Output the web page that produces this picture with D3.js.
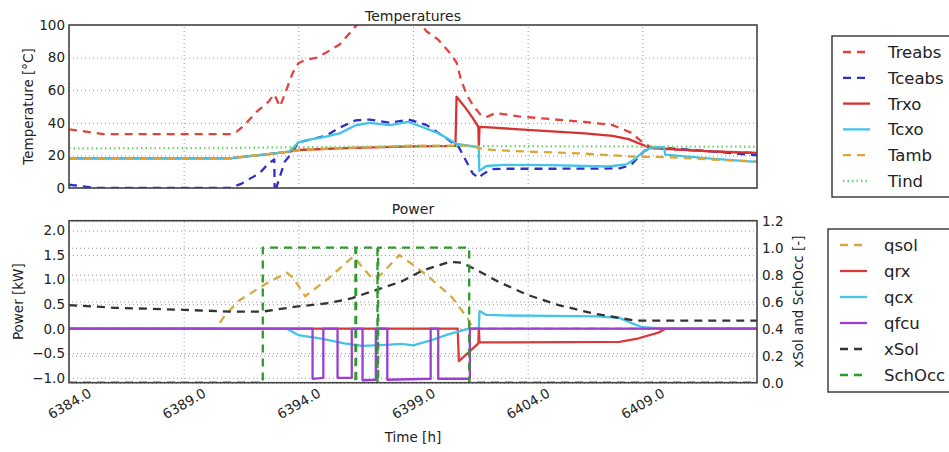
<!DOCTYPE html>
<html>
<head>
<meta charset="utf-8">
<script src="https://cdn.jsdelivr.net/npm/d3@7"></script>
<style>
  body { margin: 0; background: #fff; }
  text { font-family: "DejaVu Sans", sans-serif; fill: #222; }
</style>
</head>
<body>
<svg id="chart" width="949" height="452"></svg>
<script>
// ---- data: [time (h), value] ----
const xTicks = [6384, 6389, 6394, 6399, 6404, 6409];
const tempTicks = [0, 20, 40, 60, 80, 100];
const powerTicks = [-1.0, -0.5, 0.0, 0.5, 1.0, 1.5, 2.0];
const fracTicks = [0.0, 0.2, 0.4, 0.6, 0.8, 1.0, 1.2];

const Treabs = [[6384,36],[6384.8,34.5],[6385.5,33],[6391,33],[6391.3,34.5],[6391.65,38.6],[6392.2,47],[6392.7,53],[6392.95,57.5],
  [6393.2,50],[6393.5,61],[6393.75,70.5],[6394,76.5],[6394.3,78.5],[6394.8,80],[6395.2,83],[6395.8,88],[6396.3,96],[6396.6,101],
  [6397.2,107],[6398,111],[6398.8,108],[6399.3,101],[6399.6,96],[6400.1,91],[6400.6,83],[6400.9,77],[6401.1,66],[6401.35,57],
  [6401.65,50],[6401.95,45],[6402.2,43.5],[6402.6,46],[6403.6,44],[6404.8,42.5],[6406.5,40.5],[6407.7,38.6],[6408.5,34],
  [6409.1,27],[6409.5,24.5],[6410.5,23.5],[6412,22.5],[6414,21.5]];
const Tceabs = [[6384,2],[6384.6,1],[6385.2,0],[6391,0],[6391.5,2.5],[6392.3,9],[6392.7,15],[6392.95,17.5],[6392.97,-3],
  [6393.4,16],[6393.75,22],[6394,28],[6394.6,30],[6395.2,32],[6395.8,37],[6396.5,41.5],[6397.1,42],[6398,40],[6398.8,42],
  [6399.6,38.6],[6400.4,31],[6401,25],[6401.3,17],[6401.6,9],[6401.87,6],[6402,8],[6402.4,11.5],[6403,11.8],[6405,11.8],
  [6408,12],[6408.5,14],[6409.1,23],[6409.7,25],[6410.5,24],[6412,22.5],[6414,20]];
const Trxo = [[6384,18.2],[6391,18.2],[6392.5,20.5],[6393.6,22.3],[6394,23.3],[6396,24.5],[6399,25.5],[6400.85,25.8],
  [6400.9,56],[6401.3,49],[6401.6,43],[6401.85,37.5],[6401.87,25],[6401.9,37.5],[6402.5,37],[6404.5,35.2],[6406.5,33.5],
  [6407.7,32],[6408.4,30],[6409,26.5],[6409.4,24.5],[6410,24],[6412,22.5],[6414,21.5]];
const Tcxo = [[6384,18.2],[6391,18.2],[6392.5,20.5],[6393.6,22.3],[6393.8,25],[6394,28],[6394.6,30],[6395.2,31.5],
  [6395.8,33.5],[6396.5,38.5],[6397.1,40],[6398,38.6],[6398.8,40.5],[6399.4,37.4],[6400.1,33.7],[6400.9,27],[6401.87,25],
  [6401.89,10.5],[6402.2,13.5],[6403,14.2],[6405,14],[6407.5,13.2],[6408.3,14.5],[6408.7,18],[6409.1,23],[6409.5,25],
  [6409.95,25],[6410,20.5],[6412,18],[6414,16]];
const Tamb = [[6384,18.2],[6391,18.2],[6392.5,20.5],[6393.6,22.3],[6394,23.3],[6396,24.5],[6399,26],[6401.5,26],
  [6401.87,24.5],[6402.5,23.3],[6404,22.3],[6406.2,21.3],[6407.7,20],[6408.7,19.2],[6410,19],[6412,17.5],[6414,16.2]];
const Tind = [[6384,24.3],[6390,24.5],[6396,25.3],[6401,25.7],[6408,25.5],[6414,25.3]];

const qsol = [[6384,0],[6390.4,0],[6390.8,0.27],[6391.4,0.57],[6392.6,0.92],[6393.5,1.14],[6393.8,1.02],[6394.3,0.66],
  [6395.3,1.02],[6396.4,1.47],[6397.2,1.03],[6397.6,1.1],[6398.4,1.5],[6399.1,1.27],[6399.7,1.05],[6400.7,0.64],
  [6401.4,0.2],[6401.6,0],[6414,0]];
const qrx = [[6384,0],[6400.95,0],[6401,-0.66],[6401.5,-0.45],[6401.85,-0.3],[6401.87,0],[6401.9,-0.28],[6403,-0.28],
  [6408,-0.27],[6408.8,-0.2],[6409.7,-0.08],[6410,0],[6414,0]];
const qcx = [[6384,0],[6393.5,0],[6394,-0.13],[6395,-0.2],[6396,-0.3],[6396.8,-0.35],[6397.8,-0.33],[6398.5,-0.31],
  [6399,-0.34],[6399.7,-0.25],[6400.5,-0.12],[6401.2,-0.03],[6401.45,0],[6401.87,0],[6401.9,0.36],[6402.2,0.28],
  [6403,0.27],[6405,0.26],[6407,0.25],[6408,0.22],[6408.5,0.12],[6409,0.03],[6410,0],[6414,0]];
const qfcu = [[6384,0],[6394.62,0],[6394.62,-1.02],[6395.09,-1.0],[6395.09,0],[6395.71,0],[6395.71,-1.0],[6396.33,-1.0],
  [6396.33,0],[6396.8,0],[6396.8,-1.05],[6397.38,-1.04],[6397.38,0],[6397.88,0],[6397.88,-1.04],[6399.77,-1.02],
  [6399.77,0],[6400.1,0],[6400.1,-1.02],[6401.48,-1.02],[6401.48,0],[6414,0]];
const xSol = [[6384,0.575],[6386,0.555],[6389,0.54],[6391,0.527],[6392.45,0.527],[6393.9,0.563],[6395.35,0.59],
  [6396.35,0.627],[6397.4,0.687],[6398.5,0.75],[6399.4,0.83],[6400.6,0.895],[6401.1,0.89],[6401.6,0.85],[6402.7,0.75],
  [6404,0.65],[6405.35,0.575],[6406.8,0.515],[6408,0.48],[6408.7,0.46],[6414,0.46]];
const SchOcc = [[6384,0],[6392.45,0],[6392.45,1],[6396.49,1],[6396.49,0],[6396.52,0],[6396.52,1],[6397.45,1],
  [6397.45,0],[6397.48,0],[6397.48,1],[6401.45,1],[6401.45,0],[6414,0]];

// ---- series styles ----
const dash = "8,6", dot = "1.5,3";
const tempSeries = [
  { name: "Treabs", data: Treabs, color: "#e0443c", dash: dash },
  { name: "Tceabs", data: Tceabs, color: "#2f2fc8", dash: dash },
  { name: "Trxo",   data: Trxo,   color: "#d63232", dash: null },
  { name: "Tcxo",   data: Tcxo,   color: "#40c4e8", dash: null },
  { name: "Tamb",   data: Tamb,   color: "#dba53a", dash: dash },
  { name: "Tind",   data: Tind,   color: "#6ed86e", dash: dot }
];
const powerSeries = [
  { name: "qsol", data: qsol, color: "#d6a843", dash: dash },
  { name: "qrx",  data: qrx,  color: "#d93a3a", dash: null },
  { name: "qcx",  data: qcx,  color: "#45c4e8", dash: null },
  { name: "qfcu", data: qfcu, color: "#9b3fd0", dash: null }
];
const fracSeries = [
  { name: "xSol",   data: xSol,   color: "#333333", dash: dash },
  { name: "SchOcc", data: SchOcc, color: "#2e9a2e", dash: dash }
];

const svg = d3.select("#chart");
svg.append("rect").attr("width", 949).attr("height", 452).attr("fill", "#fff");

const left = 69, right = 757;
const top1 = 25, bot1 = 188;
const top2 = 220.7, bot2 = 382.7;

const x = d3.scaleLinear().domain([6384, 6414]).range([left, right]);
const yT = d3.scaleLinear().domain([0, 100]).range([bot1, top1]);
const yP = d3.scaleLinear().domain([-1.1, 2.2]).range([bot2, top2]);
const yF = d3.scaleLinear().domain([0, 1.2]).range([bot2, top2]);

const defs = svg.append("defs");
defs.append("clipPath").attr("id", "clip1").append("rect")
    .attr("x", left).attr("y", top1).attr("width", right - left).attr("height", bot1 - top1);
defs.append("clipPath").attr("id", "clip2").append("rect")
    .attr("x", left).attr("y", top2).attr("width", right - left).attr("height", bot2 - top2);

function styleGrid(g) {
    g.select(".domain").remove();
    g.selectAll(".tick line")
     .attr("stroke", "#999")
     .attr("stroke-width", 1)
     .attr("stroke-dasharray", "1,3");
    g.selectAll(".tick text").attr("font-size", 13.5).attr("fill", "#222");
}

// ---- top panel grid / axes ----
svg.append("g")
   .attr("transform", `translate(0,${bot1})`)
   .call(d3.axisBottom(x).tickValues(xTicks).tickSize(-(bot1 - top1)).tickFormat(""))
   .call(styleGrid);
svg.append("g")
   .attr("transform", `translate(${left},0)`)
   .call(d3.axisLeft(yT).tickValues(tempTicks).tickSize(-(right - left)).tickPadding(4).tickFormat(d3.format("d")))
   .call(styleGrid);

// ---- bottom panel grid / axes ----
svg.append("g")
   .attr("transform", `translate(${right},0)`)
   .call(d3.axisRight(yF).tickValues(fracTicks).tickSize(-(right - left)).tickPadding(5).tickFormat(d3.format(".1f")))
   .call(styleGrid);
svg.append("g")
   .attr("transform", `translate(${left},0)`)
   .call(d3.axisLeft(yP).tickValues(powerTicks).tickSize(-(right - left)).tickPadding(4).tickFormat(d3.format(".1f")))
   .call(styleGrid);
const xAxis = svg.append("g")
   .attr("transform", `translate(0,${bot2})`)
   .call(d3.axisBottom(x).tickValues(xTicks).tickSize(-(bot2 - top2)).tickFormat(d3.format(".1f")))
   .call(styleGrid);
xAxis.selectAll(".tick text")
     .attr("y", 0)
     .attr("dy", "0.35em")
     .attr("text-anchor", "middle")
     .attr("transform", "translate(0,21) rotate(-30)");

// ---- lines ----
function drawSeries(series, yScale, clip) {
    let line = d3.line().x(d => x(d[0])).y(d => yScale(d[1]));
    svg.append("g").attr("clip-path", `url(#${clip})`)
       .selectAll("path")
       .data(series)
       .join("path")
       .attr("d", d => line(d.data))
       .attr("fill", "none")
       .attr("stroke", d => d.color)
       .attr("stroke-width", 2.3)
       .attr("stroke-dasharray", d => d.dash)
       .attr("stroke-linejoin", "round");
}
drawSeries(tempSeries, yT, "clip1");
drawSeries(powerSeries, yP, "clip2");
drawSeries(fracSeries, yF, "clip2");

// ---- frames ----
[[top1, bot1], [top2, bot2]].forEach(([t, b]) => {
    svg.append("rect")
       .attr("x", left).attr("y", t)
       .attr("width", right - left).attr("height", b - t)
       .attr("fill", "none").attr("stroke", "#444").attr("stroke-width", 1.6);
});

// ---- titles and labels ----
svg.append("text").attr("x", (left + right) / 2).attr("y", 21)
   .attr("text-anchor", "middle").attr("font-size", 14).text("Temperatures");
svg.append("text").attr("x", (left + right) / 2).attr("y", 214)
   .attr("text-anchor", "middle").attr("font-size", 14).text("Power");
svg.append("text").attr("x", (left + right) / 2).attr("y", 442)
   .attr("text-anchor", "middle").attr("font-size", 13.5).text("Time [h]");
svg.append("text")
   .attr("transform", `translate(33,${(top1 + bot1) / 2}) rotate(-90)`)
   .attr("text-anchor", "middle").attr("font-size", 13.5).text("Temperature [°C]");
svg.append("text")
   .attr("transform", `translate(22.5,${(top2 + bot2) / 2}) rotate(-90)`)
   .attr("text-anchor", "middle").attr("font-size", 13.5).text("Power [kW]");
svg.append("text")
   .attr("transform", `translate(803,${(top2 + bot2) / 2}) rotate(-90)`)
   .attr("text-anchor", "middle").attr("font-size", 13.5).text("xSol and SchOcc [-]");

// ---- legends ----
function drawLegend(series, bx, by, bh, lx, tx, y0, step) {
    let g = svg.append("g");
    g.append("rect").attr("x", bx).attr("y", by).attr("width", 150).attr("height", bh)
     .attr("fill", "#fff").attr("stroke", "#333").attr("stroke-width", 1.4);
    let item = g.selectAll("g.item").data(series).join("g").attr("class", "item")
                .attr("transform", (d, i) => `translate(0,${y0 + i * step})`);
    item.append("line")
        .attr("x1", lx).attr("x2", lx + 27)
        .attr("stroke", d => d.color).attr("stroke-width", 2.3)
        .attr("stroke-dasharray", d => d.dash);
    item.append("text")
        .attr("x", tx).attr("dy", "0.36em").attr("font-size", 16.5)
        .text(d => d.name);
}
drawLegend(tempSeries, 832, 36, 161, 843, 888, 52, 25.8);
drawLegend(powerSeries.concat(fracSeries), 828, 229, 163, 840, 884, 245, 26);
</script>
</body>
</html>
